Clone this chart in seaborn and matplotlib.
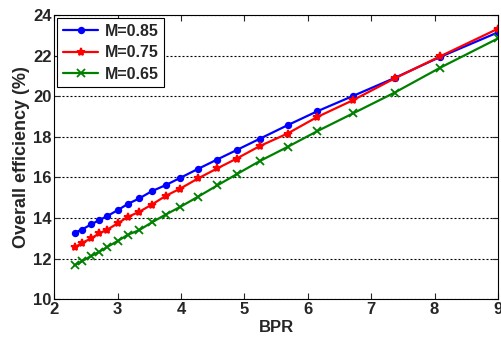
import pandas as pd
import seaborn as sns
from matplotlib import pyplot as plt

# BPR values where the markers sit
bpr = [2.32, 2.44, 2.58, 2.71, 2.84, 3.0, 3.16, 3.34, 3.54, 3.76, 3.99,
       4.27, 4.57, 4.88, 5.24, 5.68, 6.15, 6.71, 7.37, 8.09, 9.0]

# overall efficiency (%) for each Mach number
eff_085 = [13.27, 13.43, 13.68, 13.89, 14.10, 14.38, 14.69, 14.96, 15.32, 15.62, 15.98,
           16.42, 16.88, 17.35, 17.90, 18.57, 19.26, 20.01, 20.90, 21.94, 23.15]
eff_075 = [12.55, 12.77, 12.99, 13.24, 13.43, 13.73, 14.05, 14.30, 14.66, 15.09, 15.45,
           15.95, 16.44, 16.93, 17.54, 18.16, 18.98, 19.80, 20.88, 21.97, 23.33]
eff_065 = [11.67, 11.87, 12.12, 12.33, 12.58, 12.86, 13.17, 13.40, 13.78, 14.17, 14.55,
           15.05, 15.60, 16.16, 16.80, 17.50, 18.28, 19.15, 20.18, 21.41, 22.85]

labels = ["M=0.85", "M=0.75", "M=0.65"]
colors = ["#0000ff", "#ff0000", "#008000"]
markers = [".", "*", "x"]
msizes = [8, 6, 5.5]

xticks = [2, 3, 4, 5, 6, 7, 8, 9]
yticks = [10, 12, 14, 16, 18, 20, 22, 24]

sns.set_style("ticks")
plt.rcParams['font.family'] = ['Liberation Sans', 'DejaVu Sans']
plt.rcParams['font.weight'] = 'bold'

fig = plt.figure(figsize=(5.02, 3.43), dpi=100)
ax = fig.add_axes([0.108, 0.128, 0.884, 0.828])

for vals, lab, col, mk, ms in zip([eff_085, eff_075, eff_065], labels, colors, markers, msizes):
    df = pd.DataFrame({"BPR": bpr, "eff": vals})
    sns.lineplot(data=df, x="BPR", y="eff", ax=ax, color=col, marker=mk,
                 markersize=ms, markeredgecolor=col, markeredgewidth=1.3,
                 linewidth=1.6, label=lab)

ax.set_xlim(2, 9)
ax.set_ylim(10, 24)
ax.set_xticks(xticks)
ax.set_yticks(yticks)
ax.yaxis.grid(True, linestyle=(0, (1.8, 1.8)), color="black", linewidth=0.8)
ax.xaxis.grid(False)
ax.tick_params(direction="in", top=True, right=True, labelsize=12, length=4, pad=2)
for lbl in ax.get_xticklabels() + ax.get_yticklabels():
    lbl.set_fontweight("bold")
for s in ax.spines.values():
    s.set_color("black")
    s.set_linewidth(0.8)

ax.set_xlabel("BPR", fontsize=12, fontweight="bold", labelpad=2)
ax.set_ylabel("Overall efficiency (%)", fontsize=13, fontweight="bold", labelpad=2)

leg = ax.legend(loc="upper left", fontsize=11.5, frameon=True, fancybox=False,
                edgecolor="black", framealpha=1, handlelength=2.2,
                borderaxespad=0.2, labelspacing=0.4, borderpad=0.35, handletextpad=0.4)
leg.get_frame().set_linewidth(0.8)
for t in leg.get_texts():
    t.set_fontweight("bold")

fig.savefig("out.png", dpi=100)
